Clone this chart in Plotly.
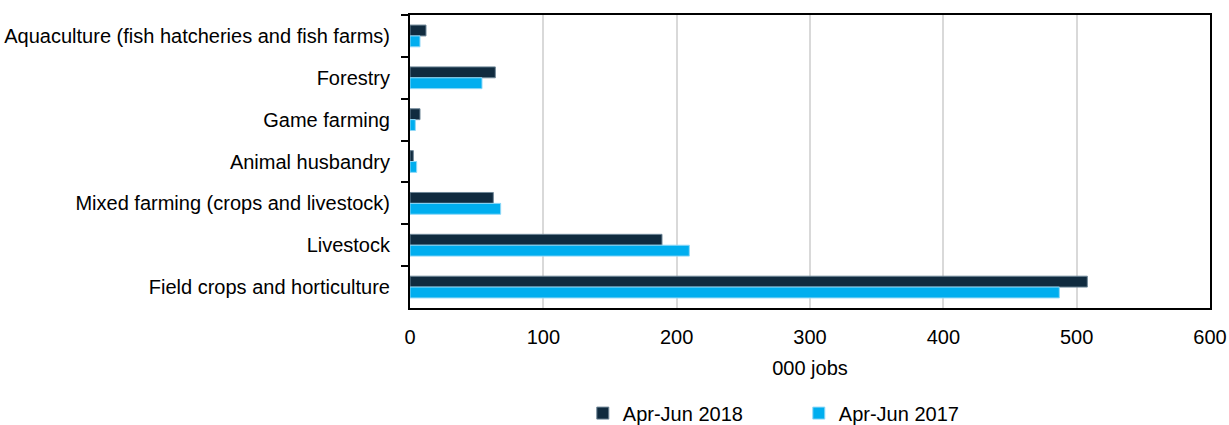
import plotly.graph_objects as go

categories = [
    "Aquaculture (fish hatcheries and fish farms)",
    "Forestry",
    "Game farming",
    "Animal husbandry",
    "Mixed farming (crops and livestock)",
    "Livestock",
    "Field crops and horticulture",
]
jobs_2018 = [12, 64, 7.5, 2.5, 62.5, 189, 508]
jobs_2017 = [7.5, 54, 4, 5, 68, 209.5, 487]
x_ticks = [0, 100, 200, 300, 400, 500, 600]

FONT = "Liberation Sans, Arial, sans-serif"
FS = 20

fig = go.Figure()
fig.add_trace(go.Bar(
    y=categories, x=jobs_2018, orientation="h", name="Apr-Jun 2018",
    marker=dict(color="#102b3f", line=dict(color="#6f8798", width=1)),
))
fig.add_trace(go.Bar(
    y=categories, x=jobs_2017, orientation="h", name="Apr-Jun 2017",
    marker=dict(color="#00aeef", line=dict(color="#8fd8f7", width=1)),
))

fig.update_layout(
    width=1229, height=425,
    margin=dict(l=410, r=19, t=15, b=117, autoexpand=False),
    paper_bgcolor="white", plot_bgcolor="white",
    barmode="group", bargap=0.48, bargroupgap=0,
    font=dict(family=FONT, size=FS, color="#000000"),
    showlegend=True,
    legend=dict(orientation="h", x=0.216, xanchor="left",
                yref="container", y=0.028, yanchor="middle",
                font=dict(size=FS), traceorder="normal", itemwidth=30,
                entrywidth=171, entrywidthmode="pixels"),
    xaxis=dict(
        range=[0, 600], tickvals=x_ticks, ticktext=[str(v) for v in x_ticks],
        showgrid=True, gridcolor="#d9d9d9", gridwidth=2,
        showline=True, linecolor="black", linewidth=2, mirror=True,
        ticks="", zeroline=False, ticklabelstandoff=10,
        title=dict(text="000 jobs", font=dict(size=FS), standoff=14),
        tickfont=dict(size=FS),
    ),
    yaxis=dict(
        autorange="reversed", type="category",
        showline=True, linecolor="black", linewidth=2, mirror=True,
        ticks="outside", tickson="boundaries", ticklen=7, tickwidth=2, tickcolor="black",
        showgrid=False, tickfont=dict(size=FS), ticklabelstandoff=14,
    ),
)

fig.write_html("out.html")
